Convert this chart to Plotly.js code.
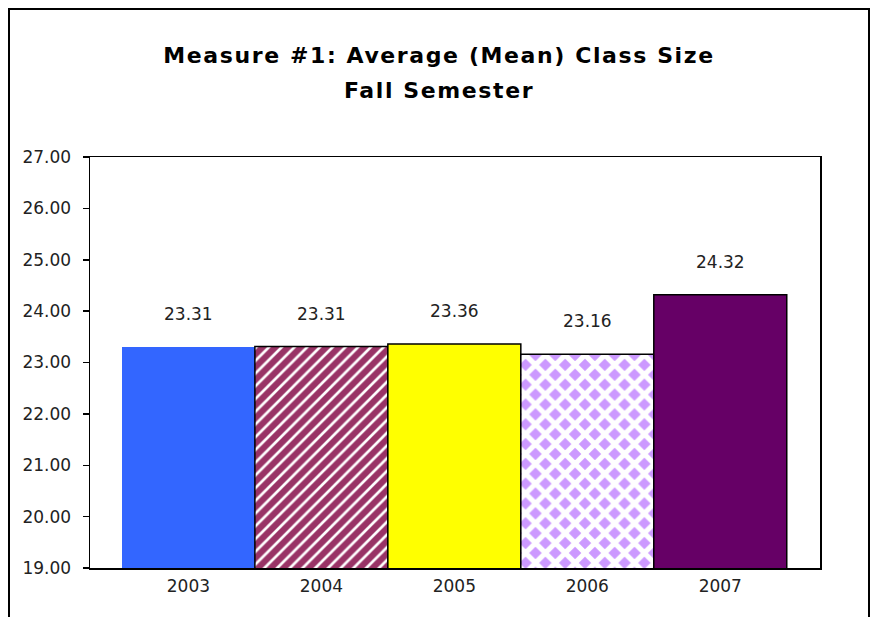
<!DOCTYPE html>
<html>
<head>
<meta charset="utf-8">
<script src="https://cdn.plot.ly/plotly-3.0.1.min.js"></script>
<style>
  html, body { margin: 0; padding: 0; background: #fff; }
  #chart { width: 878px; height: 617px; }
  .gtitle, text[data-unformatted*="Fall Semester"] { letter-spacing: 1.6px; }
</style>
</head>
<body>
<div id="chart"></div>
<script>
// ---- data ----
const years = ["2003", "2004", "2005", "2006", "2007"];
const classSize = [23.31, 23.31, 23.36, 23.16, 24.32];
const barColors = ["#3366FF", "#993366", "#FFFF00", "#CC99FF", "#660066"];
const patternShapes = ["", "/", "", "x", ""];
const titleLine1 = "Measure #1: Average (Mean) Class Size";
const titleLine2 = "Fall Semester";
const yTickValues = [19, 20, 21, 22, 23, 24, 25, 26, 27];

// ---- layout geometry ----
const W = 878, H = 617;
const M = { l: 90, r: 58, t: 157, b: 49 };
const plotW = W - M.l - M.r, plotH = H - M.t - M.b;
const px = x => (x - M.l) / plotW;          // pixel -> paper x
const py = y => (H - M.b - y) / plotH;      // pixel -> paper y

const labelFont = { family: "DejaVu Sans, Arial, sans-serif", size: 17, color: "#222" };
const titleFont = { family: "DejaVu Sans, Arial, sans-serif", size: 22, color: "#000" };

const patternSize = { "/": 9, "x": 14 };
const patternSolidity = { "/": 0.3, "x": 0.6 };

const traces = years.map((yr, i) => {
  const shape = patternShapes[i];
  const marker = {
    color: barColors[i],
    line: { color: "#000", width: i === 0 ? 0 : 1.5 }
  };
  if (shape) {
    marker.pattern = {
      shape: shape,
      fillmode: "replace",
      bgcolor: barColors[i],
      fgcolor: "#FFFFFF",
      size: patternSize[shape],
      solidity: patternSolidity[shape]
    };
  }
  return {
    type: "bar",
    name: yr,
    x: [yr],
    y: [classSize[i]],
    width: 1,
    marker: marker,
    showlegend: false
  };
});

const annotations = years.map((yr, i) => ({
  x: i, y: classSize[i], xref: "x", yref: "y",
  text: classSize[i].toFixed(2), showarrow: false,
  xanchor: "center", yanchor: "middle", yshift: 33, font: labelFont
}));
annotations.push({
  x: px(W / 2), y: py(91), xref: "paper", yref: "paper",
  text: "<b>" + titleLine2 + "</b>", showarrow: false,
  xanchor: "center", yanchor: "middle",
  font: titleFont
});

const layout = {
  width: W, height: H,
  margin: M,
  paper_bgcolor: "#fff", plot_bgcolor: "#fff",
  title: {
    text: "<b>" + titleLine1 + "</b>",
    x: 0.5, xref: "container", xanchor: "center",
    y: 1 - 55 / H, yref: "container", yanchor: "middle",
    font: titleFont
  },
  barmode: "overlay",
  bargap: 0,
  xaxis: {
    type: "category",
    categoryorder: "array", categoryarray: years,
    range: [-0.74, 4.75],
    showline: true, linecolor: "#000", linewidth: 1.5, mirror: true,
    showgrid: false, zeroline: false,
    ticks: "", ticklen: 0,
    ticklabelstandoff: 2,
    tickfont: labelFont,
    fixedrange: true
  },
  yaxis: {
    range: [19, 27],
    tickvals: yTickValues,
    tickformat: ".2f",
    showline: true, linecolor: "#000", linewidth: 1.5, mirror: true,
    showgrid: false, zeroline: false,
    ticks: "outside", ticklen: 6, tickcolor: "#000", tickwidth: 1.5,
    ticklabelstandoff: 8,
    tickfont: labelFont,
    fixedrange: true
  },
  annotations: annotations,
  shapes: [{
    type: "rect", xref: "paper", yref: "paper", layer: "above",
    x0: px(9), x1: px(869), y0: py(660), y1: py(9),
    line: { color: "#000", width: 2 }, fillcolor: "rgba(0,0,0,0)"
  }]
};

Plotly.newPlot("chart", traces, layout, { displayModeBar: false, staticPlot: true });
</script>
</body>
</html>
